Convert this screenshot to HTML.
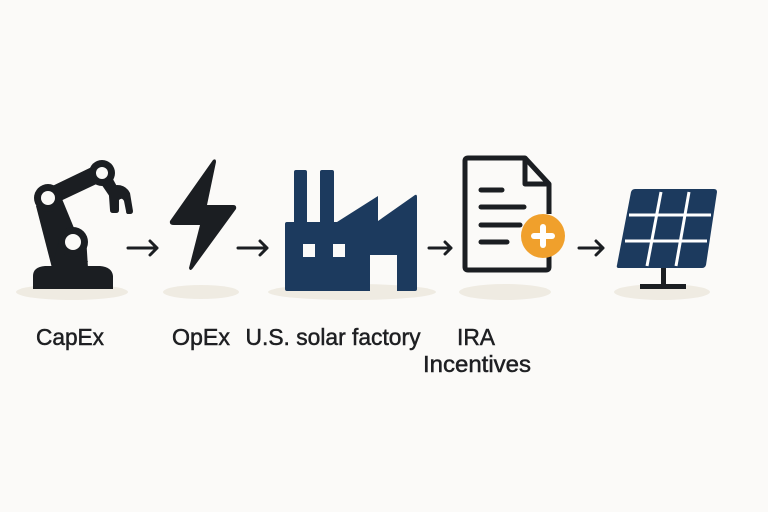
<!DOCTYPE html>
<html><head><style>
body{margin:0;background:#fbfaf8;}
svg{display:block}
text{font-family:"Liberation Sans",sans-serif;font-size:23px;fill:#1e1f22;stroke:#1e1f22;stroke-width:0.5px;}
</style></head><body>
<svg width="768" height="512" viewBox="0 0 768 512">
<rect width="768" height="512" fill="#fbfaf8"/>
<g fill="#efebe2">
<ellipse cx="72" cy="292" rx="56" ry="8"/>
<ellipse cx="201" cy="292" rx="38" ry="7"/>
<ellipse cx="352" cy="292" rx="84" ry="8"/>
<ellipse cx="505" cy="292" rx="46" ry="8"/>
<ellipse cx="662" cy="292" rx="48" ry="8"/>
</g>
<!-- robot arm -->
<g fill="#1b1e22">
<path d="M33 289 L33 276 Q33 267 45 266 L100 266 Q112 267 113 276 L113 289 Z"/>
<path d="M52 268 L36 206 L60 194 L88 262 Z"/>
<path d="M52 268 L88 268 L86 236 L60 236 Z"/>
<path d="M44 190 L98 164 L105 180 L52 205 Z"/>
<circle cx="48" cy="198" r="14"/>
<circle cx="73" cy="242" r="15"/>
<circle cx="102" cy="173" r="13"/>
<path d="M97 178 L110 197 L120 192 L108 170 Z"/>
<path d="M109 196 Q108 186 117 185 Q126 185 130 193 L133 211 Q133 214 130 214 L128 214 Q126 214 126 211 L124 201 Q122 197 119 200 L119 210 Q119 213 116 213 L113 213 Q110 213 110 210 Z"/>
</g>
<g fill="#fbfaf8">
<circle cx="48" cy="198" r="7"/>
<circle cx="73" cy="242" r="8"/>
<circle cx="102" cy="173" r="6"/>
</g>
<!-- lightning -->
<path d="M213 160 L170 221 Q169 225 174 225 L200 225 L189 268 Q190 272 193 268 L236 209 Q237 205 233 205 L207 205 L216 162 Q216 158 213 160 Z" fill="#1b1e22"/>
<!-- factory -->
<path d="M285 224 Q285 222 287 222 L294 222 L294 172 Q294 170 296 170 L305 170 Q307 170 307 172 L307 222 L320 222 L320 172 Q320 170 322 170 L332 170 Q334 170 334 172 L334 222 L337 222 L378 196 L378 221 L415 195 Q417 194 417 197 L417 289 Q417 291 415 291 L397 291 L397 255 L370 255 L370 291 L287 291 Q285 291 285 289 Z" fill="#1c3a5e"/>
<rect x="303" y="244" width="12" height="13" fill="#fbfaf8"/>
<rect x="333" y="244" width="12" height="13" fill="#fbfaf8"/>
<!-- document -->
<path d="M549 255 L549 267 Q549 270 546 270 L468 270 Q465 270 465 267 L465 161 Q465 158 468 158 L525 158 L549 184 L549 214" fill="none" stroke="#1b1e22" stroke-width="5" stroke-linejoin="round"/>
<path d="M525 160 L525 184 L547 184" fill="none" stroke="#1b1e22" stroke-width="5" stroke-linejoin="round"/>
<g stroke="#1b1e22" stroke-width="5" stroke-linecap="round">
<line x1="481" y1="190" x2="502" y2="190"/>
<line x1="481" y1="207" x2="524" y2="207"/>
<line x1="481" y1="225" x2="520" y2="225"/>
<line x1="481" y1="242" x2="507" y2="242"/>
</g>
<circle cx="543" cy="236" r="22" fill="#f0a02c"/>
<g stroke="#fff" stroke-width="6" stroke-linecap="round">
<line x1="543" y1="227" x2="543" y2="245"/>
<line x1="534" y1="236" x2="552" y2="236"/>
</g>
<!-- solar -->
<path d="M635 189 L714 189 Q717 189 717 192 L706 265 Q705 268 702 268 L619 268 Q616 268 617 265 L631 192 Q632 189 635 189 Z" fill="#1c3a5e"/>
<g stroke="#fff" stroke-width="3">
<line x1="629" y1="215" x2="711" y2="215"/>
<line x1="625" y1="241" x2="707" y2="241"/>
<line x1="661" y1="192" x2="647" y2="266"/>
<line x1="689" y1="192" x2="676" y2="266"/>
</g>
<rect x="661" y="268" width="5" height="17" fill="#1b1e22"/>
<rect x="640" y="284" width="46" height="5" fill="#1b1e22"/>
<!-- arrows -->
<g stroke="#1b1e22" stroke-width="3" fill="none" stroke-linecap="round" stroke-linejoin="round">
<path d="M128 248 L157 248 M150 241 L157 248 L150 255"/>
<path d="M238 248 L267 248 M260 241 L267 248 L260 255"/>
<path d="M429 248 L451 248 M445 242 L451 248 L445 254"/>
<path d="M579 248 L603 248 M596 241 L603 248 L596 255"/>
</g>
<text x="70" y="345" text-anchor="middle" textLength="68" lengthAdjust="spacingAndGlyphs">CapEx</text>
<text x="201" y="345" text-anchor="middle" textLength="58" lengthAdjust="spacingAndGlyphs">OpEx</text>
<text x="333" y="345" text-anchor="middle" textLength="175" lengthAdjust="spacingAndGlyphs">U.S. solar factory</text>
<text x="476" y="345" text-anchor="middle" textLength="38" lengthAdjust="spacingAndGlyphs">IRA</text>
<text x="477" y="372" text-anchor="middle" textLength="108" lengthAdjust="spacingAndGlyphs">Incentives</text>
</svg>
</body></html>
